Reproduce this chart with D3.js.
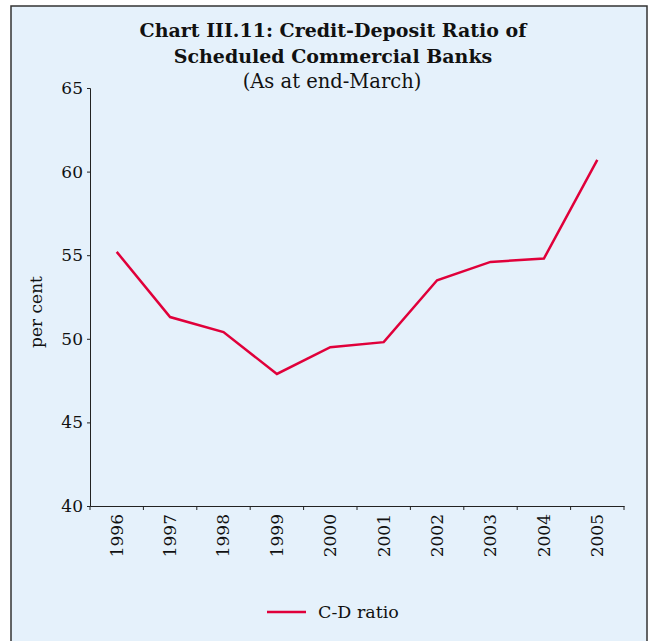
<!DOCTYPE html>
<html lang="en">
<head>
<meta charset="utf-8">
<script src="https://d3js.org/d3.v7.min.js"></script>
<style>
  body { margin: 0; background: #fff; }
  svg text { font-family: "DejaVu Serif", "Liberation Serif", serif; fill: #111; }
</style>
</head>
<body>
<div id="chart"></div>
<script>
  // chart values
  var years = ["1996","1997","1998","1999","2000","2001","2002","2003","2004","2005"]
  var cdRatio = [55.2, 51.3, 50.4, 47.9, 49.5, 49.8, 53.5, 54.6, 54.8, 60.7]
  var yTicks = [40, 45, 50, 55, 60, 65]
  var titleLines = ["Chart III.11: Credit-Deposit Ratio of", "Scheduled Commercial Banks"]
  var subTitle = "(As at end-March)"
  var seriesName = "C-D ratio"

  var W = 651, H = 641
  var margin = {left: 90, right: 24, top: 88, bottom: 135}

  var svg = d3.select('#chart').append('svg')
      .attr('width', W)
      .attr('height', H)

  // panel
  svg.append('rect')
      .attr('x', 11).attr('y', 6)
      .attr('width', 636).attr('height', H)
      .attr('fill', '#e5f1fb')
      .attr('stroke', '#333')
      .attr('stroke-width', 1.5)

  var x = d3.scaleBand()
      .domain(years)
      .range([margin.left, W - margin.right - 3])
  var y = d3.scaleLinear()
      .domain([40, 65])
      .range([H - margin.bottom, margin.top])

  // title
  svg.selectAll('.title')
      .data(titleLines)
      .enter()
      .append('text')
      .attr('class', 'title')
      .attr('x', 333)
      .attr('y', function(d, i) { return 37 + i * 26 })
      .attr('text-anchor', 'middle')
      .attr('font-weight', 'bold')
      .attr('font-size', 19)
      .text(function(d) { return d })
  svg.append('text')
      .attr('x', 332).attr('y', 88)
      .attr('text-anchor', 'middle')
      .attr('font-size', 19.5)
      .text(subTitle)

  // y axis
  var yAxis = svg.append('g')
      .attr('transform', 'translate(' + margin.left + ',0)')
      .call(d3.axisLeft(y).tickValues(yTicks).tickSize(3).tickPadding(4))
  yAxis.select('.domain').attr('stroke', '#222')
  yAxis.selectAll('.tick line').attr('stroke', '#222')
  yAxis.selectAll('text').attr('font-size', 17).attr('font-family', 'DejaVu Serif').attr('fill', '#111')

  // x axis, ticks between categories
  var xAxis = svg.append('g')
      .attr('transform', 'translate(0,' + y(40) + ')')
      .call(d3.axisBottom(x).tickSize(0).tickPadding(0))
  xAxis.select('.domain').attr('stroke', '#222')
  xAxis.selectAll('.tick text')
      .attr('font-size', 17)
      .attr('font-family', 'DejaVu Serif')
      .attr('fill', '#111')
      .attr('transform', 'rotate(-90)')
      .attr('text-anchor', 'end')
      .attr('dy', '0.35em')
      .attr('x', -8)
      .attr('y', 0)
  var sep = years.map(function(d) { return x(d) }).concat([x.range()[1]])
  xAxis.selectAll('.sep')
      .data(sep)
      .enter()
      .append('line')
      .attr('class', 'sep')
      .attr('x1', function(d) { return d }).attr('x2', function(d) { return d })
      .attr('y1', 0).attr('y2', 4)
      .attr('stroke', '#222')

  // y label
  svg.append('text')
      .attr('transform', 'translate(42,312) rotate(-90)')
      .attr('text-anchor', 'middle')
      .attr('font-size', 17)
      .text('per cent')

  // line
  var line = d3.line()
      .x(function(d, i) { return x(years[i]) + x.bandwidth() / 2 })
      .y(function(d) { return y(d) })
  svg.append('path')
      .datum(cdRatio)
      .attr('d', line)
      .attr('fill', 'none')
      .attr('stroke', '#e0003a')
      .attr('stroke-width', 2.5)

  // legend
  svg.append('line')
      .attr('x1', 267).attr('x2', 306)
      .attr('y1', 612).attr('y2', 612)
      .attr('stroke', '#e0003a')
      .attr('stroke-width', 2.5)
  svg.append('text')
      .attr('x', 318).attr('y', 618)
      .attr('font-size', 17.5)
      .text(seriesName)
</script>
</body>
</html>
